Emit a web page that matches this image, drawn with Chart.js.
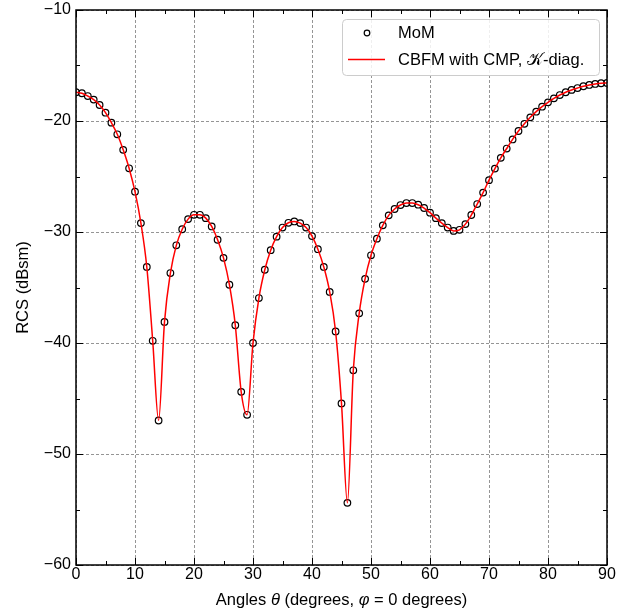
<!DOCTYPE html>
<html>
<head>
<meta charset="utf-8">
<script src="https://cdn.jsdelivr.net/npm/chart.js@4.4.0/dist/chart.umd.min.js"></script>
<style>
  html, body { margin: 0; padding: 0; background: #fff; }
</style>
</head>
<body>
<canvas id="chart" width="639" height="611"></canvas>
<script>
// angles theta in degrees
const angles = [0,1,2,3,4,5,6,7,8,9,10,11,12,13,14,15,16,17,18,19,20,21,22,23,24,25,26,27,28,29,
  30,31,32,33,34,35,36,37,38,39,40,41,42,43,44,45,46,47,48,49,50,51,52,53,54,55,56,57,58,59,
  60,61,62,63,64,65,66,67,68,69,70,71,72,73,74,75,76,77,78,79,80,81,82,83,84,85,86,87,88,89,90];

// MoM reference RCS (dBsm)
const momRcs = [-17.4,-17.5,-17.75,-18.07,-18.56,-19.25,-20.15,-21.2,-22.6,-24.26,
  -26.37,-29.2,-33.15,-39.8,-46.98,-38.1,-33.7,-31.2,-29.75,-28.84,
  -28.45,-28.45,-28.75,-29.5,-30.7,-32.33,-34.75,-38.4,-44.4,-46.47,
  -40.0,-35.95,-33.4,-31.64,-30.42,-29.6,-29.17,-29.05,-29.2,-29.6,
  -30.37,-31.55,-33.15,-35.4,-38.96,-45.44,-54.4,-42.46,-37.33,-34.22,
  -32.1,-30.6,-29.4,-28.5,-27.93,-27.57,-27.39,-27.39,-27.54,-27.84,
  -28.26,-28.75,-29.2,-29.6,-29.9,-29.8,-29.29,-28.47,-27.48,-26.45,
  -25.33,-24.29,-23.32,-22.48,-21.66,-20.9,-20.25,-19.67,-19.16,-18.71,
  -18.32,-17.96,-17.66,-17.41,-17.2,-17.03,-16.87,-16.75,-16.66,-16.6,-16.57];

// CBFM with CMP, K-diag. (overlaps MoM)
const cbfmRcs = [-17.4,-17.5,-17.75,-18.07,-18.56,-19.25,-20.15,-21.2,-22.6,-24.26,
  -26.37,-29.2,-33.15,-39.8,-46.98,-38.1,-33.7,-31.2,-29.75,-28.84,
  -28.45,-28.45,-28.75,-29.5,-30.7,-32.33,-34.75,-38.4,-44.4,-46.47,
  -40.0,-35.95,-33.4,-31.64,-30.42,-29.6,-29.17,-29.05,-29.2,-29.6,
  -30.37,-31.55,-33.15,-35.4,-38.96,-45.44,-54.4,-42.46,-37.33,-34.22,
  -32.1,-30.6,-29.4,-28.5,-27.93,-27.57,-27.39,-27.39,-27.54,-27.84,
  -28.26,-28.75,-29.2,-29.6,-29.9,-29.8,-29.29,-28.47,-27.48,-26.45,
  -25.33,-24.29,-23.32,-22.48,-21.66,-20.9,-20.25,-19.67,-19.16,-18.71,
  -18.32,-17.96,-17.66,-17.41,-17.2,-17.03,-16.87,-16.75,-16.66,-16.6,-16.57];

const xTicks = [0, 10, 20, 30, 40, 50, 60, 70, 80, 90];
const yTicks = [-60, -50, -40, -30, -20, -10];

const FONT = "'Liberation Sans', Arial, Helvetica, sans-serif";
const TEXT_SIZE = 16.5;

// dashed grid, inward ticks on all four sides, frame, titles, legend
const framePlugin = {
  id: 'frame',
  beforeDatasetsDraw(chart) {
    const { ctx, chartArea: a, scales: { x, y } } = chart;
    ctx.save();
    ctx.strokeStyle = '#7a7a7a';
    ctx.lineWidth = 0.8;
    ctx.setLineDash([3, 2]);
    xTicks.forEach(v => {
      const px = Math.round(x.getPixelForValue(v)) + 0.5;
      ctx.beginPath(); ctx.moveTo(px, a.top); ctx.lineTo(px, a.bottom); ctx.stroke();
    });
    yTicks.forEach(v => {
      const py = Math.round(y.getPixelForValue(v)) + 0.5;
      ctx.beginPath(); ctx.moveTo(a.left, py); ctx.lineTo(a.right, py); ctx.stroke();
    });
    ctx.restore();
  },
  afterDraw(chart) {
    const { ctx, chartArea: a, scales: { x, y } } = chart;
    ctx.save();
    ctx.strokeStyle = '#000';
    ctx.lineWidth = 1;
    for (let v = 0; v <= 90; v += 5) {
      const len = v % 10 === 0 ? 7 : 4;
      const px = Math.round(x.getPixelForValue(v)) + 0.5;
      ctx.beginPath();
      ctx.moveTo(px, a.bottom); ctx.lineTo(px, a.bottom - len);
      ctx.moveTo(px, a.top); ctx.lineTo(px, a.top + len);
      ctx.stroke();
    }
    for (let v = -60; v <= -10; v += 5) {
      const len = v % 10 === 0 ? 7 : 4;
      const py = Math.round(y.getPixelForValue(v)) + 0.5;
      ctx.beginPath();
      ctx.moveTo(a.left, py); ctx.lineTo(a.left + len, py);
      ctx.moveTo(a.right, py); ctx.lineTo(a.right - len, py);
      ctx.stroke();
    }
    ctx.lineWidth = 1.5;
    ctx.strokeRect(a.left, a.top, a.right - a.left, a.bottom - a.top);

    // axis titles
    ctx.fillStyle = '#000';
    ctx.textBaseline = 'middle';
    const parts = [
      ['Angles ', false], ['\u03b8', true], [' (degrees, ', false],
      ['\u03c6', true], [' = 0 degrees)', false]
    ];
    let total = 0;
    parts.forEach(([t, it]) => {
      ctx.font = (it ? 'italic ' : '') + TEXT_SIZE + 'px ' + FONT;
      total += ctx.measureText(t).width;
    });
    let cx = (a.left + a.right) / 2 - total / 2;
    parts.forEach(([t, it]) => {
      ctx.font = (it ? 'italic ' : '') + TEXT_SIZE + 'px ' + FONT;
      ctx.textAlign = 'left';
      ctx.fillText(t, cx, 600);
      cx += ctx.measureText(t).width;
    });
    ctx.font = TEXT_SIZE + 'px ' + FONT;
    ctx.translate(23, (a.top + a.bottom) / 2);
    ctx.rotate(-Math.PI / 2);
    ctx.textAlign = 'center';
    ctx.fillText('RCS (dBsm)', 0, 0);
    ctx.restore();

    // legend
    ctx.save();
    const bx = 342, by = 19, bw = 257, bh = 56;
    ctx.fillStyle = 'rgba(255,255,255,0.85)';
    ctx.strokeStyle = '#cccccc';
    ctx.lineWidth = 1;
    ctx.beginPath();
    ctx.roundRect(bx + 0.5, by + 0.5, bw, bh, 4);
    ctx.fill(); ctx.stroke();
    ctx.strokeStyle = '#000';
    ctx.lineWidth = 1.2;
    ctx.beginPath(); ctx.arc(367, 33, 2.8, 0, Math.PI * 2); ctx.stroke();
    ctx.strokeStyle = '#ff0000';
    ctx.lineWidth = 1.5;
    ctx.beginPath(); ctx.moveTo(348, 59.5); ctx.lineTo(385, 59.5); ctx.stroke();
    ctx.fillStyle = '#000';
    ctx.font = TEXT_SIZE + 'px ' + FONT;
    ctx.textAlign = 'left';
    ctx.textBaseline = 'middle';
    ctx.fillText(chart.data.datasets[1].label, 398, 33);
    ctx.fillText(chart.data.datasets[0].label, 398, 60);
    ctx.restore();
  }
};

new Chart(document.getElementById('chart'), {
  type: 'scatter',
  data: {
    datasets: [
      {
        type: 'line',
        label: 'CBFM with CMP, \ud835\udca6-diag.',
        data: angles.map((a, i) => ({ x: a, y: cbfmRcs[i] })),
        borderColor: '#ff0000',
        borderWidth: 1.5,
        pointRadius: 0,
        cubicInterpolationMode: 'monotone',
        fill: false,
        order: 0
      },
      {
        label: 'MoM',
        data: angles.map((a, i) => ({ x: a, y: momRcs[i] })),
        showLine: false,
        pointStyle: 'circle',
        pointRadius: 3.3,
        pointBorderWidth: 1.2,
        pointBorderColor: '#000',
        pointBackgroundColor: 'rgba(0,0,0,0)',
        order: 1
      }
    ]
  },
  options: {
    responsive: false,
    animation: false,
    devicePixelRatio: 1,
    layout: { autoPadding: false, padding: { top: 10, right: 32, left: 0, bottom: 0 } },
    plugins: { legend: { display: false }, tooltip: { enabled: false } },
    scales: {
      x: {
        type: 'linear',
        min: 0, max: 90,
        afterFit: s => { s.height = 46; s.paddingLeft = 0; s.paddingRight = 0; },
        afterBuildTicks: s => { s.ticks = xTicks.map(v => ({ value: v })); },
        grid: { display: false, drawTicks: false },
        border: { display: false },
        ticks: { color: '#000', padding: 0, font: { family: FONT, size: 16 }, maxRotation: 0 }
      },
      y: {
        type: 'linear',
        min: -60, max: -10,
        afterFit: s => { s.width = 76; s.paddingTop = 0; s.paddingBottom = 0; },
        afterBuildTicks: s => { s.ticks = yTicks.map(v => ({ value: v })); },
        grid: { display: false, drawTicks: false },
        border: { display: false },
        ticks: {
          color: '#000', padding: 5, font: { family: FONT, size: 16 },
          callback: v => String(v).replace('-', '\u2212')
        }
      }
    }
  },
  plugins: [framePlugin]
});
</script>
</body>
</html>
